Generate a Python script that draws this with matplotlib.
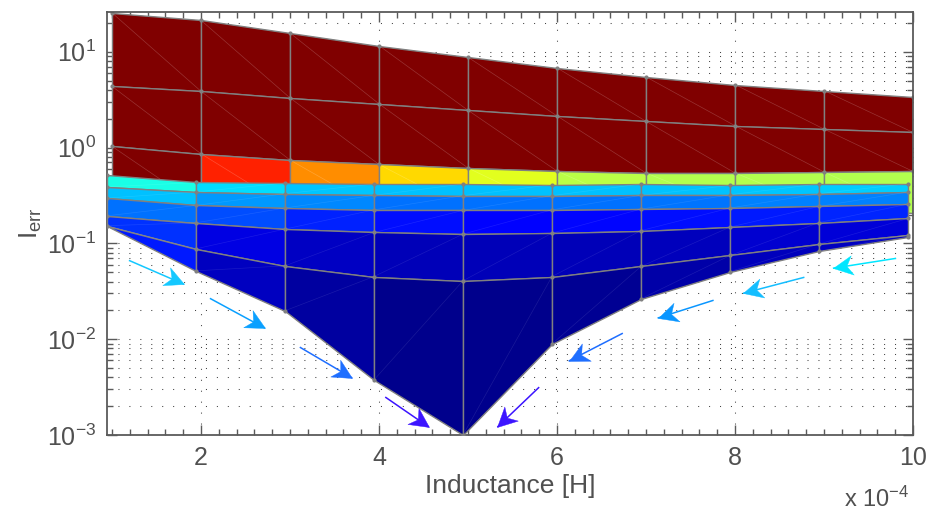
import numpy as np
import matplotlib
matplotlib.use('Agg')
import matplotlib.pyplot as plt
from matplotlib.colors import LinearSegmentedColormap
from matplotlib.path import Path
from matplotlib.markers import MarkerStyle
from matplotlib.transforms import Affine2D, ScaledTranslation
from matplotlib.ticker import FixedLocator, FixedFormatter, LogLocator, MultipleLocator, NullFormatter
from matplotlib.collections import LineCollection

plt.rcParams['font.family'] = ['Liberation Sans', 'DejaVu Sans']
plt.rcParams['mathtext.default'] = 'regular'

# ---------------- data ----------------
inductance = [1, 2, 3, 4, 5, 6, 7, 8, 9, 10]          # x 1e-4 H

# upper sheet (rows of I_err values)
upper_r0 = [25.5, 21.3, 15.7, 11.6, 8.77, 6.79, 5.47, 4.54, 3.93, 3.35]
upper_r1 = [4.36, 3.87, 3.30, 2.86, 2.45, 2.14, 1.88, 1.69, 1.56, 1.44]
upper_r2 = [1.03, 0.863, 0.742, 0.667, 0.612, 0.569, 0.543, 0.543, 0.556, 0.564]
upper_r3 = [0.28, 0.24, 0.23, 0.22, 0.22, 0.22, 0.22, 0.23, 0.23, 0.21]
upper_c0 = [1.0] * 9
upper_c1 = [1.0] * 9
upper_c2 = [1.0, 0.8425, 0.7375, 0.6625, 0.595, 0.555, 0.55, 0.55, 0.55]

# lower sheet
lower_l0 = [0.521, 0.432, 0.427, 0.417, 0.417, 0.410, 0.417, 0.403, 0.417, 0.420]
lower_l1 = [0.388, 0.344, 0.330, 0.317, 0.315, 0.315, 0.317, 0.322, 0.330, 0.344]
lower_l2 = [0.297, 0.249, 0.234, 0.224, 0.221, 0.224, 0.228, 0.234, 0.243, 0.257]
lower_l3 = [0.194, 0.164, 0.141, 0.130, 0.125, 0.128, 0.136, 0.148, 0.165, 0.182]
lower_l4 = [0.153, 0.0878, 0.0583, 0.0451, 0.0407, 0.0451, 0.0574, 0.0748, 0.0984, 0.123]
lower_l5 = [0.153, 0.0517, 0.0198, 0.00376, 0.001, 0.00893, 0.0264, 0.0508, 0.0823, 0.117]
lower_c0 = [0.40, 0.3425, 0.32, 0.3125, 0.3125, 0.3125, 0.315, 0.32, 0.325]
lower_c1 = [0.3125, 0.275, 0.26, 0.2375, 0.2375, 0.2375, 0.24, 0.25, 0.25]
lower_c2 = [0.2375, 0.20, 0.16, 0.14, 0.125, 0.13, 0.14, 0.15, 0.1625]
lower_c3 = [0.175, 0.10, 0.07, 0.055, 0.055, 0.055, 0.06, 0.08, 0.0875]
lower_c4 = [0.15, 0.0625, 0.035, 0.0125, 0.0125, 0.02, 0.04, 0.06, 0.0625]

# arrows (start -> tip)
arrow_x0 = [1.19, 2.10, 3.11, 4.07, 5.80, 6.74, 7.76, 8.78, 9.81]
arrow_y0 = [0.0665, 0.0267, 0.00826, 0.00249, 0.00316, 0.01155, 0.0255, 0.0443, 0.0698]
arrow_x1 = [1.81, 2.72, 3.70, 4.56, 5.33, 6.13, 7.13, 8.09, 9.10]
arrow_y1 = [0.0374, 0.0130, 0.00393, 0.00121, 0.00121, 0.0059, 0.0166, 0.0301, 0.055]
arrow_colors = ['#14C8FF', '#0AA0FF', '#1E6EFF', '#3C14FF', '#3C14FF',
                '#1E6EFF', '#0A96FF', '#14BEFF', '#00E6FF']

xtick_values = [2, 4, 6, 8, 10]
xtick_labels = ['2', '4', '6', '8', '10']
ytick_values = [1e-3, 1e-2, 1e-1, 1e0, 1e1]
ytick_labels = ['$10^{-3}$', '$10^{-2}$', '$10^{-1}$', '$10^{0}$', '$10^{1}$']

# ---------------- style ----------------
jet = LinearSegmentedColormap.from_list('mjet', [
    (0.0, (0, 0, 0.5)), (0.125, (0, 0, 1)), (0.375, (0, 1, 1)),
    (0.625, (1, 1, 0)), (0.875, (1, 0, 0)), (1.0, (0.5, 0, 0))])
edge_col = '#808080'
txt_col = '#505050'
spine_col = '#5a5a5a'

fig = plt.figure(figsize=(9.3, 5.16), dpi=100)
ax = fig.add_axes([107 / 930, 1 - 435 / 516, (913 - 107) / 930, (435 - 12) / 516])
ax.set_yscale('log')

x = np.array(inductance, dtype=float)

# upper sheet
Yu = np.array([upper_r0, upper_r1, upper_r2, upper_r3])
Xu = np.tile(x, (Yu.shape[0], 1))
Cu = np.array([upper_c0, upper_c1, upper_c2])
ax.pcolormesh(Xu, Yu, Cu, cmap=jet, vmin=0, vmax=1, shading='flat',
              edgecolors=edge_col, linewidth=1.0, zorder=2, antialiased=True)
segs = []
for i in range(Yu.shape[0] - 1):
    for k in range(len(x) - 1):
        segs.append([(x[k], Yu[i, k]), (x[k + 1], Yu[i + 1, k + 1])])
ax.add_collection(LineCollection(segs, colors='white', alpha=0.2, linewidths=0.5, zorder=2.1))
ax.plot(Xu[:3].ravel(), Yu[:3].ravel(), ls='none', marker='o', ms=2.0,
        color=edge_col, zorder=2.2)

# lower sheet (slightly displaced by view perspective)
shift = ax.transData + ScaledTranslation(-5 / 100, 0, fig.dpi_scale_trans)
Yl = np.array([lower_l0, lower_l1, lower_l2, lower_l3, lower_l4, lower_l5])
Xl = np.tile(x, (Yl.shape[0], 1))
Cl = np.array([lower_c0, lower_c1, lower_c2, lower_c3, lower_c4])
ax.pcolormesh(Xl, Yl, Cl, cmap=jet, vmin=0, vmax=1, shading='flat',
              edgecolors=edge_col, linewidth=1.0, zorder=3, transform=shift,
              antialiased=True)
segs = []
for i in range(Yl.shape[0] - 1):
    for k in range(len(x) - 1):
        segs.append([(x[k], Yl[i + 1, k]), (x[k + 1], Yl[i, k + 1])])
ax.add_collection(LineCollection(segs, colors='white', alpha=0.1, linewidths=0.5,
                                 zorder=3.1, transform=shift))
ax.plot(Xl.ravel(), Yl.ravel(), ls='none', marker='o', ms=2.0, color=edge_col,
        zorder=3.2, transform=shift)

ax.set_xlim(0.944, 10)
ax.set_ylim(1e-3, 26)

# ticks / grid
ax.xaxis.set_major_locator(FixedLocator(xtick_values))
ax.xaxis.set_major_formatter(FixedFormatter(xtick_labels))
ax.xaxis.set_minor_locator(MultipleLocator(0.2))
ax.yaxis.set_major_locator(FixedLocator(ytick_values))
ax.yaxis.set_major_formatter(FixedFormatter(ytick_labels))
ax.yaxis.set_minor_locator(LogLocator(base=10, subs=np.arange(2, 10), numticks=20))
ax.yaxis.set_minor_formatter(NullFormatter())
ax.tick_params(which='both', direction='in', top=True, right=True,
               color=spine_col, labelcolor=txt_col, labelsize=18, width=1.0)
ax.tick_params(which='major', length=7, pad=8)
ax.tick_params(which='minor', length=4)
for s in ax.spines.values():
    s.set_color(spine_col)
    s.set_linewidth(1.3)
ax.set_axisbelow(True)
ax.grid(True, which='major', axis='x', ls=(0, (1, 9.5)), lw=0.75, color='#444444')
ax.grid(True, which='both', axis='y', ls=(0, (1, 9.5)), lw=0.75, color='#444444')

ax.set_xlabel('Inductance [H]', fontsize=19, color=txt_col, labelpad=3)
ax.set_ylabel('$I_{err}$', fontsize=19, color=txt_col, labelpad=2)
fig.text(877 / 930, 1 - 499 / 516, 'x 10$^{-4}$', fontsize=17, color=txt_col,
         ha='center', va='center')

# arrows
head = Path([(0, 0), (-1, 0.5), (-0.7, 0), (-1, -0.5), (0, 0)],
            [Path.MOVETO, Path.LINETO, Path.LINETO, Path.LINETO, Path.CLOSEPOLY])
for xs, ys, xe, ye, c in zip(arrow_x0, arrow_y0, arrow_x1, arrow_y1, arrow_colors):
    ax.plot([xs, xe], [ys, ye], color=c, lw=1.1, zorder=4, solid_capstyle='butt')
    p0 = ax.transData.transform((xs, ys))
    p1 = ax.transData.transform((xe, ye))
    ang = np.arctan2(p1[1] - p0[1], p1[0] - p0[0])
    m = MarkerStyle(head, transform=Affine2D().rotate(ang))
    ax.plot([xe], [ye], ls='none', marker=m, ms=28, color=c, mec=c, mew=0.3, zorder=4.1)

fig.savefig('out.png', dpi=100)
